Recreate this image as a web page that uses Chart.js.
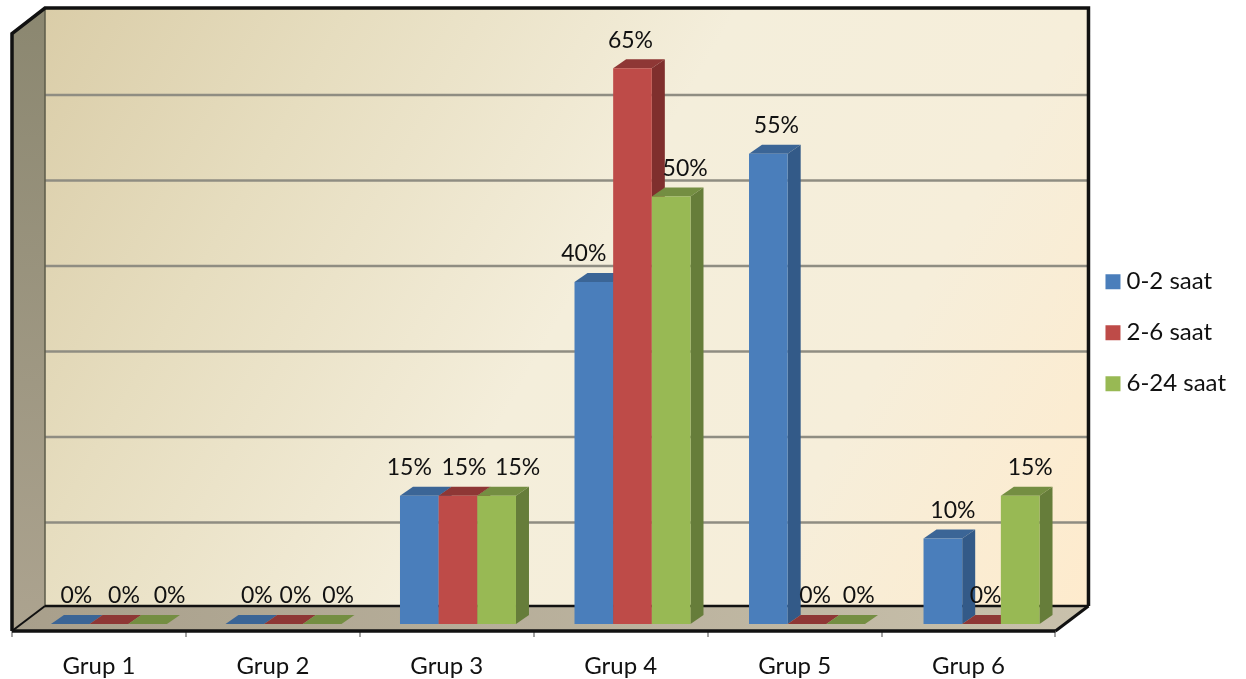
<!DOCTYPE html>
<html>
<head>
<meta charset="utf-8">
<title>Grup</title>
<script src="https://cdn.jsdelivr.net/npm/chart.js@4"></script>
<style>
  html, body { margin: 0; padding: 0; background: #fff; }
  canvas { display: block; }
</style>
</head>
<body>
<canvas id="chart" width="1246" height="679"></canvas>
<script>
const groups = ["Grup 1", "Grup 2", "Grup 3", "Grup 4", "Grup 5", "Grup 6"];
const hours02 = [0, 0, 15, 40, 55, 10];
const hours26 = [0, 0, 15, 65, 0, 0];
const hours624 = [0, 0, 15, 50, 0, 15];
const gridValues = [10, 20, 30, 40, 50, 60];

// front / top / side shades per series
const shades = [
  { front: "#4a7ebb", top: "#3b6596", side: "#335a88" },
  { front: "#be4b48", top: "#8e3735", side: "#7f2f2d" },
  { front: "#98b954", top: "#748e42", side: "#667d3a" }
];

// sideways nudge of each value label, so neighbours don't collide
const labelNudge = [
  [6, 12, -10, -10, 8, 10],
  [15, 12, 6, -2, 8, 4],
  [22, 16, 21, 14, 13, 10]
];

// the 3D box around the plot, relative to the chart area
const box = { dx: 33, floorFront: 7, floorBack: 18, wallLift: 16 };
const barDepth = { dx: 13, dy: 9 };

function poly(ctx, pts, fill) {
  ctx.beginPath();
  pts.forEach((p, i) => i ? ctx.lineTo(p[0], p[1]) : ctx.moveTo(p[0], p[1]));
  ctx.closePath();
  ctx.fillStyle = fill;
  ctx.fill();
}

function line(ctx, pts, color, width) {
  ctx.beginPath();
  pts.forEach((p, i) => i ? ctx.lineTo(p[0], p[1]) : ctx.moveTo(p[0], p[1]));
  ctx.strokeStyle = color;
  ctx.lineWidth = width;
  ctx.stroke();
}

const box3d = {
  id: "box3d",

  afterLayout(chart) {
    // legend sits further right and higher than its reserved space
    const lg = chart.legend;
    lg.left += 29; lg.right += 29;
    lg.top -= 28; lg.bottom -= 28;
  },

  beforeDraw(chart) {
    const { ctx, chartArea: a, scales: { y } } = chart;
    const base = y.getPixelForValue(0);
    const backL = a.left + box.dx, backR = a.right + box.dx;
    const wallTop = a.top - 17.5, wallBottom = base - box.floorBack;
    const frontTop = a.top + 8;

    // back wall
    const wall = ctx.createLinearGradient(backL, wallTop, backR, wallBottom);
    wall.addColorStop(0, "#dacda8");
    wall.addColorStop(0.22, "#e6ddbf");
    wall.addColorStop(0.5, "#f4eedb");
    wall.addColorStop(0.75, "#f6eeda");
    wall.addColorStop(1, "#feebcd");
    ctx.fillStyle = wall;
    ctx.fillRect(backL, wallTop, backR - backL, wallBottom - wallTop);

    // left wall
    const side = ctx.createLinearGradient(0, wallTop, 0, base);
    side.addColorStop(0, "#8b8770");
    side.addColorStop(1, "#aca38f");
    poly(ctx, [[a.left, frontTop], [backL, wallTop], [backL, wallBottom], [a.left, base + box.floorFront]], side);

    // wall lines, one per gridValue
    gridValues.forEach(v => {
      const py = y.getPixelForValue(v) - box.wallLift;
      line(ctx, [[backL, py], [backR, py]], "#8f8d82", 2.5);
    });
  },

  beforeDatasetsDraw(chart) {
    const { ctx, chartArea: a, scales: { y } } = chart;
    const base = y.getPixelForValue(0);
    const backL = a.left + box.dx, backR = a.right + box.dx;
    const wallTop = a.top - 17.5, wallBottom = base - box.floorBack;
    const floorY = base + box.floorFront;
    const frontTop = a.top + 8;

    // floor
    const floor = ctx.createLinearGradient(a.left, 0, backR, 0);
    floor.addColorStop(0, "#a89f8b");
    floor.addColorStop(1, "#c9c1ac");
    poly(ctx, [[a.left, floorY], [backL, wallBottom], [backR, wallBottom], [a.right, floorY]], floor);

    // frame
    line(ctx, [[backL, wallTop], [backL, wallBottom]], "#5d5b4a", 1.5);
    line(ctx, [[backL, wallBottom], [backR, wallBottom]], "#111", 2.5);
    line(ctx, [[a.left, floorY], [backL, wallBottom]], "#111", 2);
    line(ctx, [[backR, wallBottom], [a.right, floorY]], "#111", 3);
    line(ctx, [[a.left, floorY], [a.right, floorY]], "#111", 3.5);
    line(ctx, [[a.left, floorY], [a.left, frontTop], [backL, wallTop], [backR, wallTop], [backR, wallBottom]], "#111", 3.5);
  },

  // bars get painted by hand below, with their depth faces
  beforeDatasetDraw() {
    return false;
  },

  afterDatasetsDraw(chart) {
    const { ctx } = chart;
    const { dx, dy } = barDepth;
    const metas = chart.data.datasets.map((d, i) => chart.getDatasetMeta(i));

    metas.forEach((meta, s) => {
      const shade = shades[s];
      meta.data.forEach((bar, g) => {
        // the bars stand a little way back from the front edge of the floor
        const left = bar.x - bar.width / 2 + 10 + g * 0.6;
        const right = left + bar.width;
        const top = bar.y, bottom = bar.base;
        poly(ctx, [[left, top], [left + dx, top - dy], [right + dx, top - dy], [right, top]], shade.top);
        if (bottom - top > 0) {
          poly(ctx, [[right, top], [right + dx, top - dy], [right + dx, bottom - dy], [right, bottom]], shade.side);
          poly(ctx, [[left, top], [right, top], [right, bottom], [left, bottom]], shade.front);
        }
      });
    });

    ctx.save();
    ctx.font = "23px Lato";
    ctx.fillStyle = "#111";
    ctx.textAlign = "center";
    ctx.textBaseline = "middle";
    metas.forEach((meta, s) => {
      meta.data.forEach((bar, g) => {
        const value = chart.data.datasets[s].data[g];
        ctx.fillText(value + "%", bar.x + 10 + g * 0.6 + labelNudge[s][g], bar.y - 28);
      });
    });
    ctx.restore();
  }
};

new Chart(document.getElementById("chart"), {
  type: "bar",
  data: {
    labels: groups,
    datasets: [
      { label: "0-2 saat", data: hours02, backgroundColor: shades[0].front },
      { label: "2-6 saat", data: hours26, backgroundColor: shades[1].front },
      { label: "6-24 saat", data: hours624, backgroundColor: shades[2].front }
    ]
  },
  plugins: [box3d],
  options: {
    responsive: false,
    animation: false,
    layout: { padding: { left: 12, top: 25.5, right: 39, bottom: -16.8 } },
    datasets: { bar: { categoryPercentage: 0.667, barPercentage: 1 } },
    plugins: {
      tooltip: { enabled: false },
      legend: {
        position: "right",
        labels: {
          // small box with a heavy stroke keeps the text close to the swatch
          boxWidth: 3,
          boxHeight: 3,
          padding: 27,
          color: "#111",
          font: { family: "Lato", size: 24 },
          generateLabels(chart) {
            return Chart.defaults.plugins.legend.labels.generateLabels(chart).map(item => ({
              ...item,
              strokeStyle: item.fillStyle,
              lineWidth: 12
            }));
          }
        }
      }
    },
    scales: {
      x: {
        grid: { drawOnChartArea: false, drawTicks: true, tickLength: 13, tickColor: "#a3a3a3", lineWidth: 2 },
        border: { display: false },
        ticks: { color: "#111", font: { family: "Lato", size: 24 }, padding: 15, maxRotation: 0 }
      },
      y: { display: false, min: 0, max: 70 }
    }
  }
});
</script>
</body>
</html>
